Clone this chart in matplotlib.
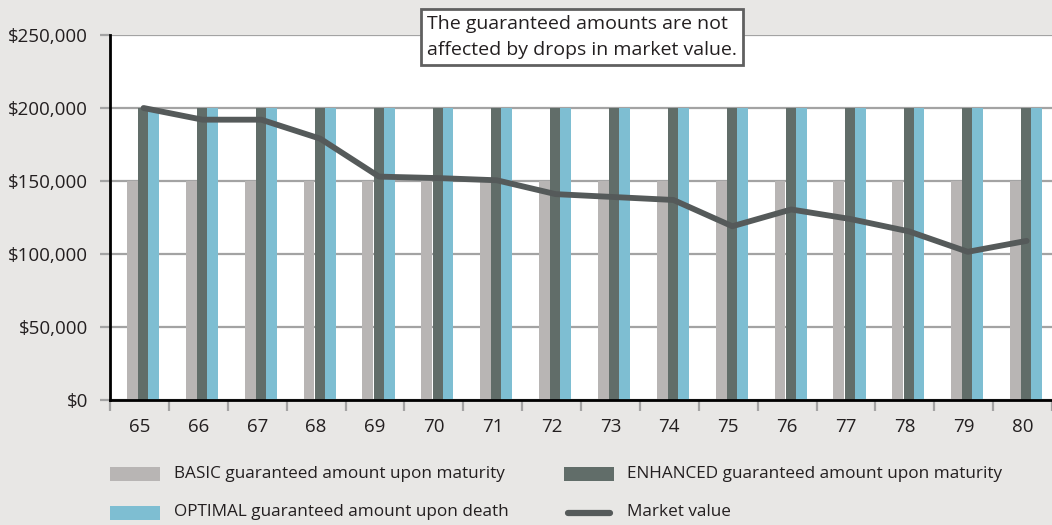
import matplotlib
matplotlib.use("Agg")
import matplotlib.pyplot as plt
from matplotlib.patches import Rectangle
from matplotlib.lines import Line2D
from matplotlib.ticker import FuncFormatter
import numpy as np

ages = ["65", "66", "67", "68", "69", "70", "71", "72", "73", "74", "75", "76", "77", "78", "79", "80"]
basic = [150000] * 16
enhanced = [200000] * 16
optimal = [200000] * 16
market = [200000, 192000, 192000, 179000, 153000, 152000, 150500, 141000,
          139000, 137000, 119000, 130500, 124000, 115500, 101500, 109000]
legend_labels = ["BASIC guaranteed amount upon maturity",
                 "ENHANCED guaranteed amount upon maturity",
                 "OPTIMAL guaranteed amount upon death",
                 "Market value"]
note = "The guaranteed amounts are not\naffected by drops in market value."

c_basic = "#b8b5b4"
c_enh = "#616d69"
c_opt = "#7ebed2"
c_line = "#555a5a"
bg = "#e8e7e5"
grid_c = "#a3a3a3"
txt_c = "#231f20"

plt.rcParams['font.family'] = ['Open Sans', 'DejaVu Sans']

W, H = 1052, 525
fig = plt.figure(figsize=(W / 100, H / 100), dpi=100, facecolor=bg)
ax = fig.add_axes([110 / W, 125 / H, (W - 110) / W, 365 / H])
ax.set_facecolor("white")

x = np.arange(len(ages))
bw = 0.185
ax.bar(x - 0.12, basic, bw, color=c_basic, zorder=2)
ax.bar(x + 0.063, enhanced, bw * 0.92, color=c_enh, zorder=3)
ax.bar(x + 0.24, optimal, bw, color=c_opt, zorder=2)
ax.plot(x + 0.07, market, color=c_line, lw=4.2, solid_capstyle='round', zorder=5)

ax.set_xlim(-0.5, 15.39)
ax.set_ylim(0, 250000)
ax.set_yticks(np.arange(0, 250001, 50000))
ax.yaxis.set_major_formatter(FuncFormatter(lambda v, p: "${:,.0f}".format(v)))
ax.grid(axis='y', color=grid_c, lw=1.6, zorder=1)
ax.set_axisbelow(True)

ax.set_xticks(x)
ax.set_xticklabels(ages)
ax.set_xticks(np.arange(-0.5, 16, 1.0), minor=True)
ax.tick_params(axis='x', which='major', length=0, pad=13, labelsize=13.5, labelcolor=txt_c)
ax.tick_params(axis='x', which='minor', length=8, width=1.6, color=grid_c)
ax.tick_params(axis='y', length=7, width=1.6, color=grid_c, pad=9, labelsize=13.5, labelcolor=txt_c)

for s in ['top', 'right']:
    ax.spines[s].set_visible(False)
for s in ['left', 'bottom']:
    ax.spines[s].set_color('black')
    ax.spines[s].set_linewidth(2)
    ax.spines[s].set_zorder(6)

# annotation box
fig.text(427 / W, 1 - 37 / H, note, fontsize=14, color=txt_c, ha='left', va='center',
         linespacing=1.6,
         bbox=dict(boxstyle='square,pad=0.3', facecolor='white', edgecolor='#606060', lw=2))

# legend
rows = [1 - 474 / H, 1 - 512.5 / H]
cols_patch = [110 / W, 564 / W]
cols_text = [174 / W, 627 / W]
pw, ph = 50 / W, 14 / H
items = [(0, 0, c_basic, 'patch'), (0, 1, c_enh, 'patch'), (1, 0, c_opt, 'patch'), (1, 1, c_line, 'line')]
for (r, c, col, kind), lab in zip(items, legend_labels):
    yy = rows[r]
    if kind == 'patch':
        fig.patches.append(Rectangle((cols_patch[c], yy - ph / 2), pw, ph, transform=fig.transFigure,
                                     facecolor=col, edgecolor='none'))
    else:
        fig.lines.append(Line2D([cols_patch[c] + 4 / W, cols_patch[c] + 46 / W], [yy, yy],
                                transform=fig.transFigure, color=col, lw=4.5, solid_capstyle='round'))
    fig.text(cols_text[c], yy, lab, fontsize=12.3, color=txt_c, ha='left', va='center')

fig.savefig("out.png", dpi=100, facecolor=bg)
